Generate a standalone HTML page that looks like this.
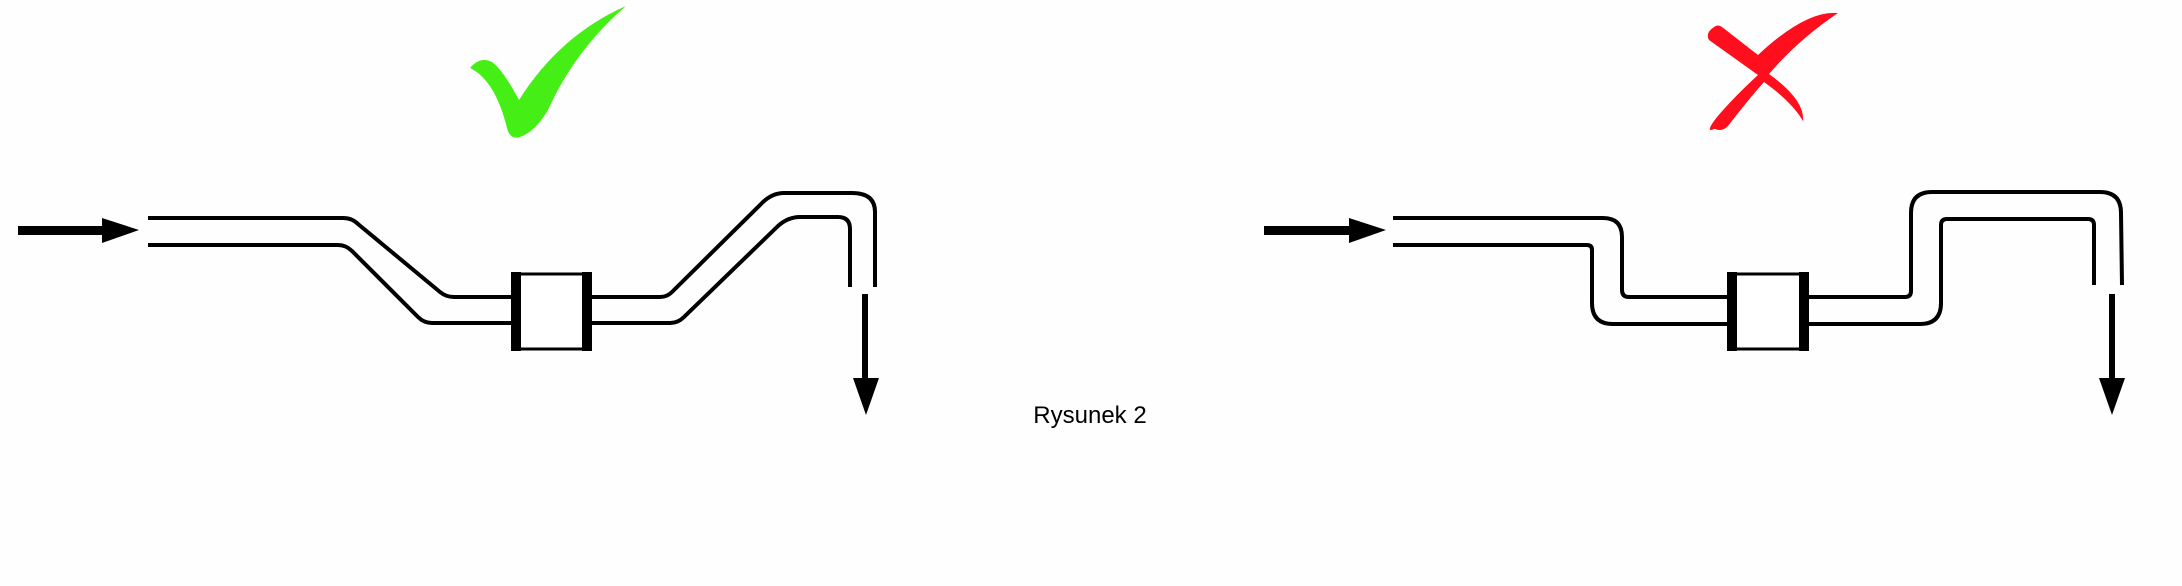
<!DOCTYPE html>
<html><head><meta charset="utf-8"><style>
html,body{margin:0;padding:0;background:#fff;}
svg{display:block;}
</style></head><body>
<svg width="2182" height="586" viewBox="0 0 2182 586" xmlns="http://www.w3.org/2000/svg">
<rect width="2182" height="586" fill="#fefefe"/>
<g fill="none" stroke="#000" stroke-width="4" stroke-linejoin="round">
<!-- LEFT -->
<path d="M148 218 H343 Q352 218 358 224 L440 292 Q446 297 454 297 H513"/>
<path d="M148 245 H338 Q346 245 352 251 L418 317 Q424 323 432 323 H513"/>
<path d="M590 297 H660 Q667 297 672 292 L762 203 Q772 193 784 193 H852 Q875 193 875 212 V287"/>
<path d="M590 323 H670 Q678 323 684 317 L778 226 Q788 217 800 217 H838 Q850 217 850 229 V287"/>
<!-- RIGHT -->
<path d="M1393 218 H1603 Q1622 218 1622 237 V290 Q1622 297 1629 297 H1728"/>
<path d="M1393 245 H1587 Q1592 245 1592 250 V303 Q1592 324 1613 324 H1728"/>
<path d="M1808 297 H1905 Q1911 297 1911 291 V213 Q1911 192 1932 192 H2100 Q2121 192 2121 213 L2122 285"/>
<path d="M1808 324 H1920 Q1941 324 1941 303 V225 Q1941 219 1947 219 H2088 Q2094 219 2094 225 V285"/>
</g>
<!-- boxes -->
<g>
<rect x="515" y="274" width="73" height="75" fill="#fff" stroke="#000" stroke-width="3"/>
<rect x="511" y="272" width="10" height="79" fill="#000"/>
<rect x="582" y="272" width="10" height="79" fill="#000"/>
<rect x="1731" y="274" width="74" height="75" fill="#fff" stroke="#000" stroke-width="3"/>
<rect x="1727" y="272" width="10" height="79" fill="#000"/>
<rect x="1799" y="272" width="10" height="79" fill="#000"/>
</g>
<!-- arrows -->
<g fill="#000">
<rect x="18" y="226" width="86" height="9"/>
<polygon points="102,218 139,230 102,243"/>
<rect x="1264" y="226" width="88" height="9"/>
<polygon points="1349,218 1386,230 1349,243"/>
<rect x="862" y="294" width="6" height="88"/>
<polygon points="853,378 879,378 866,415"/>
<rect x="2109" y="294" width="6" height="88"/>
<polygon points="2099,378 2125,378 2112,415"/>
</g>
<!-- check mark -->
<path d="M470 68 Q480 56 492 62 Q503 70 519 100 Q560 35 626 6 Q575 50 548 110 Q535 132 520 137 Q510 140 507 128 Q495 80 470 68 Z" fill="#45ee14"/>
<!-- X mark -->
<path d="M1714 27 Q1705 33 1709 40 L1758 75 Q1734 97 1717 117 Q1703 135 1716 128 Q1708 124 1715 129 Q1722 132 1728 126 Q1748 100 1764 82 Q1792 102 1803 121 Q1805 100 1769 74 Q1798 40 1838 13 Q1806 10 1758 55 L1722 27 Q1718 24 1714 27 Z" fill="#ff0f1e"/>
<text x="1090" y="423" font-family="Liberation Sans, sans-serif" font-size="24" text-anchor="middle" fill="#000">Rysunek 2</text>
</svg>
</body></html>
